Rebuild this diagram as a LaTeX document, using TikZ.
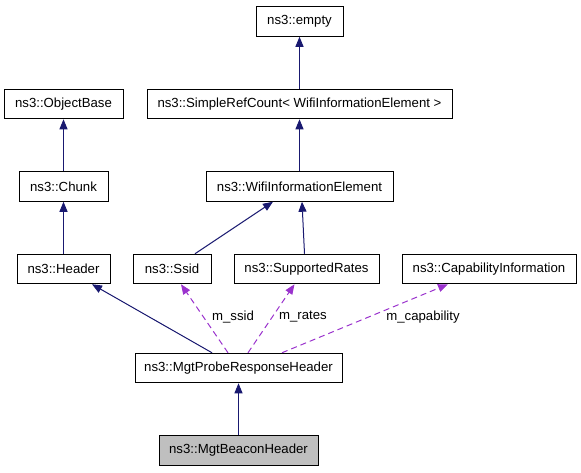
\documentclass[tikz,border=0pt]{standalone}
\usepackage{fontspec}
\setmainfont{Liberation Sans}
\usetikzlibrary{arrows.meta}
\definecolor{edgeblue}{HTML}{191970}
\definecolor{usepurple}{HTML}{9A32CD}
\definecolor{selgray}{HTML}{BFBFBF}
\begin{document}
\begin{tikzpicture}[x=1pt,y=-1pt,
  cls/.style={draw=black,line width=1pt,minimum height=29.5pt,inner sep=0pt,
    font=\fontsize{13.2}{15}\selectfont,fill=white},
  inh/.style={draw=edgeblue,line width=1pt,-{Triangle[length=10pt,width=8pt]}},
  use/.style={draw=usepurple,line width=1pt,dash pattern=on 6pt off 4pt,
    -{Triangle[length=10pt,width=8pt]}},
  lbl/.style={font=\fontsize{13.2}{15}\selectfont,inner sep=0pt}]
\useasboundingbox (0,0) rectangle (581,472);
\node[cls,minimum width=87pt] (empty) at (299.5,21.5) {ns3::empty};
\node[cls,minimum width=119pt] (objbase) at (63.5,104) {ns3::ObjectBase};
\node[cls,minimum width=305pt] (src) at (299.5,104) {ns3::SimpleRefCount< WifiInformationElement >};
\node[cls,minimum width=89pt] (chunk) at (63.5,186.5) {ns3::Chunk};
\node[cls,minimum width=187pt] (wie) at (299.5,186.5) {ns3::WifiInformationElement};
\node[cls,minimum width=93pt] (header) at (63.5,269) {ns3::Header};
\node[cls,minimum width=78pt] (ssid) at (172,269) {ns3::Ssid};
\node[cls,minimum width=145pt] (rates) at (306.5,269) {ns3::SupportedRates};
\node[cls,minimum width=174pt] (cap) at (489,269) {ns3::CapabilityInformation};
\node[cls,minimum width=207pt] (probe) at (238.5,368) {ns3::MgtProbeResponseHeader};
\node[cls,minimum width=159pt,fill=selgray] (beacon) at (238.5,450.5) {ns3::MgtBeaconHeader};

\draw[inh] (src.north) -- (empty.south);
\draw[inh] (chunk.north) -- (objbase.south);
\draw[inh] (wie.north) -- (src.south);
\draw[inh] (header.north) -- (chunk.south);
\draw[inh] ([xshift=23pt]ssid.north) -- ([xshift=-26.5pt]wie.south);
\draw[inh] ([xshift=-2pt]rates.north) -- ([xshift=2.5pt]wie.south);
\draw[inh] ([xshift=-26.5pt]probe.north) -- ([xshift=28.5pt]header.south);
\draw[use] ([xshift=-10.5pt]probe.north) -- ([xshift=9pt]ssid.south);
\draw[use] ([xshift=9.5pt]probe.north) -- ([xshift=-12pt]rates.south);
\draw[use] ([xshift=43.5pt]probe.north) -- ([xshift=-41pt]cap.south);
\draw[inh] (beacon.north) -- (probe.south);

\node[lbl] (lssid) at (233,317) {m\_ssid};
\node[lbl] (lrates) at (303,317) {m\_rates};
\node[lbl] (lcap) at (423,317) {m\_capability};
\end{tikzpicture}
\end{document}
